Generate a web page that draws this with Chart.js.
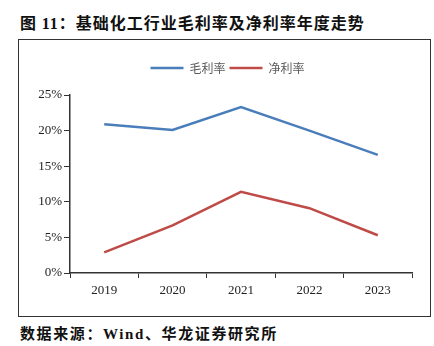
<!DOCTYPE html>
<html>
<head>
<meta charset="utf-8">
<script src="https://cdn.jsdelivr.net/npm/chart.js@4"></script>
<style>
  body { margin: 0; width: 434px; height: 346px; background: #fff; position: relative; overflow: hidden; }
  .title { position: absolute; left: 20px; top: 10px; font: bold 16px "Noto Sans CJK SC", sans-serif; letter-spacing: 1px; color: #111; white-space: nowrap; }
  .source { position: absolute; left: 20px; top: 322px; font: bold 15px "Noto Sans CJK SC", sans-serif; letter-spacing: 1.6px; color: #111; white-space: nowrap; }
  .num { font-family: "Liberation Serif", serif; }
  .frame { position: absolute; left: 18px; top: 39px; width: 411px; height: 276px; border: 1px solid #333; }
  canvas { position: absolute; left: 0; top: 0; }
</style>
</head>
<body>
<div class="title">图 <span class="num">11</span>：基础化工行业毛利率及净利率年度走势</div>
<div class="frame"><canvas id="chart" width="410" height="275"></canvas></div>
<div class="source">数据来源：<span class="num">Wind</span>、华龙证券研究所</div>
<script>
const years = ['2019', '2020', '2021', '2022', '2023'];
const grossMargin = [20.9, 20.1, 23.3, 20.0, 16.6];
const netMargin = [2.9, 6.7, 11.4, 9.1, 5.3];
const yTicks = [0, 5, 10, 15, 20, 25];

const axisColor = '#333';
const tickFont = { family: 'Liberation Serif', size: 13 };

// legend row: a bit more room below it, and nudged right over the plot
const legendTweak = {
  id: 'legendTweak',
  afterInit(chart) {
    const legend = chart.legend;
    const fit = legend.fit;
    const draw = legend.draw;
    legend.fit = function () {
      fit.call(this);
      this.height += 11;
    };
    legend.draw = function () {
      const ctx = this.ctx;
      ctx.save();
      ctx.translate(12, 0);
      draw.call(this);
      ctx.restore();
    };
  }
};

new Chart(document.getElementById('chart'), {
  type: 'line',
  data: {
    labels: years,
    datasets: [
      {
        label: '毛利率',
        data: grossMargin,
        borderColor: '#4a7ebb',
        backgroundColor: '#4a7ebb',
        borderWidth: 2.5,
        pointRadius: 0,
        tension: 0
      },
      {
        label: '净利率',
        data: netMargin,
        borderColor: '#be4b48',
        backgroundColor: '#be4b48',
        borderWidth: 2.5,
        pointRadius: 0,
        tension: 0
      }
    ]
  },
  options: {
    responsive: false,
    animation: false,
    layout: { padding: { left: 0, right: 17, top: 18, bottom: 0 } },
    plugins: {
      legend: {
        position: 'top',
        labels: {
          usePointStyle: true,
          pointStyle: 'line',
          pointStyleWidth: 33,
          padding: 4,
          color: '#595959',
          font: { family: 'Noto Sans CJK SC', size: 12 }
        }
      },
      tooltip: { enabled: false }
    },
    scales: {
      x: {
        offset: true,
        grid: { offset: true, drawOnChartArea: false, drawTicks: true, tickLength: 5, color: axisColor, lineWidth: 1 },
        border: { color: axisColor, width: 1.5 },
        ticks: { color: '#222', font: tickFont, padding: 5, maxRotation: 0 },
        afterFit(scale) { scale.height = 42; }
      },
      y: {
        min: 0,
        max: 25,
        afterBuildTicks(scale) { scale.ticks = yTicks.map(v => ({ value: v })); },
        grid: { drawOnChartArea: false, drawTicks: true, tickLength: 6, color: axisColor, lineWidth: 1 },
        border: { color: axisColor, width: 1.5 },
        ticks: { color: '#222', font: tickFont, padding: 2, callback: v => v + '%' },
        afterFit(scale) { scale.width = 51; }
      }
    }
  },
  plugins: [legendTweak]
});
</script>
</body>
</html>
